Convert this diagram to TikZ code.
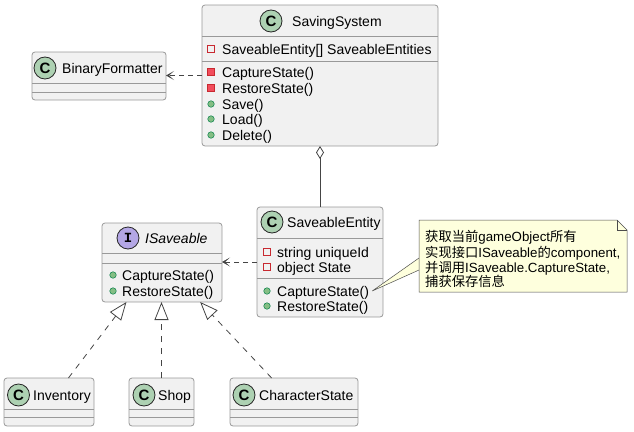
\documentclass[tikz,border=0pt]{standalone}
\usepackage{fontspec}
\setmainfont{Liberation Sans}
\setmonofont{Liberation Mono}
\newfontfamily\cjk{Noto Sans CJK SC}
\usetikzlibrary{arrows.meta, positioning}
\definecolor{BoxFill}{HTML}{F1F1F1}
\definecolor{BoxLine}{HTML}{999999}
\definecolor{SpotClass}{HTML}{ADD1B2}
\definecolor{SpotIface}{HTML}{B4A7E5}
\definecolor{PrivRed}{HTML}{C82930}
\definecolor{PrivFill}{HTML}{F24D5C}
\definecolor{PubGreen}{HTML}{038048}
\definecolor{PubFill}{HTML}{84BE84}
\definecolor{NoteFill}{HTML}{FEFFDD}
\definecolor{LinkLine}{HTML}{454545}

\tikzset{
  classbox/.style={draw=BoxLine, fill=BoxFill, line width=0.8pt, rounded corners=3pt,
                   inner sep=0pt, outer sep=0pt},
  sepline/.style={draw=BoxLine, line width=0.8pt},
  spot/.style={circle, draw=black!85, line width=0.8pt, minimum size=22pt, inner sep=0pt,
               fill=SpotClass, font=\fontsize{15}{15}\selectfont\bfseries},
  ispot/.style={spot, fill=SpotIface, font=\fontsize{14}{14}\selectfont\ttfamily\bfseries},
  cname/.style={anchor=west, inner sep=0pt, text height=10pt, text depth=0pt,
                font=\fontsize{14}{16}\selectfont},
  member/.style={anchor=west, inner ysep=0pt, inner xsep=3pt, text height=10pt, text depth=0pt,
                 font=\fontsize{14}{16}\selectfont},
  notetext/.style={member, font=\fontsize{13.3}{15}\selectfont},
  privf/.style={rectangle, draw=PrivRed, line width=0.7pt, minimum size=6.5pt, inner sep=0pt},
  privm/.style={privf, fill=PrivFill},
  pubm/.style={circle, draw=PubGreen, fill=PubFill, line width=0.5pt, minimum size=6.5pt, inner sep=0pt},
  noteline/.style={draw=black!70, line width=0.5pt},
  dep/.style={draw=LinkLine, line width=0.8pt, dash pattern=on 5pt off 4pt,
              -{Stealth[length=8pt, width=9pt, inset=5pt]}},
  realize/.style={draw=LinkLine, line width=0.8pt, dash pattern=on 6pt off 6pt,
                  -{Triangle[length=18pt, width=14pt, fill=white]}},
  compose/.style={draw=LinkLine, line width=0.8pt,
                  {Diamond[length=13pt, width=8pt, fill=white]}-}
}

\begin{document}
\begin{tikzpicture}[x=1pt, y=-1pt]
  \useasboundingbox (0,0) rectangle (634,431);

  % SavingSystem
  \node[classbox, minimum width=236pt, minimum height=141pt] (ss) at (320,75.5) {};
  \draw[sepline] (ss.west |- 0,36) -- (ss.east |- 0,36);
  \draw[sepline] (ss.west |- 0,61) -- (ss.east |- 0,61);
  \node[spot] (ss-spot) at (271,21) {C};
  \node[cname] (ss-name) at (292,21) {SavingSystem};
  \foreach \y/\mk/\txt [count=\i] in {49/privf/SaveableEntity[] SaveableEntities,
      72/privm/CaptureState(), 88/privm/RestoreState(), 104/pubm/Save(),
      119/pubm/Load(), 135/pubm/Delete()}
  {
    \node[\mk] (ss-k\i) at (211,\y) {};
    \node[member] (ss-t\i) at (219,\y) {\txt};
  }

  % BinaryFormatter
  \node[classbox, minimum width=134pt, minimum height=48pt] (bf) at (99,76) {};
  \draw[sepline] (bf.west |- 0,83) -- (bf.east |- 0,83);
  \draw[sepline] (bf.west |- 0,92) -- (bf.east |- 0,92);
  \node[spot] (bf-spot) at (45,68) {C};
  \node[cname] (bf-name) at (62,68) {BinaryFormatter};

  % ISaveable
  \node[classbox, minimum width=120pt, minimum height=79pt] (is) at (162,262.5) {};
  \draw[sepline] (is.west |- 0,253) -- (is.east |- 0,253);
  \draw[sepline] (is.west |- 0,263) -- (is.east |- 0,263);
  \node[ispot] (is-spot) at (128,238) {I};
  \node[cname, font=\fontsize{14}{16}\selectfont\itshape] (is-name) at (145,238) {ISaveable};
  \foreach \y/\mk/\txt [count=\i] in {275/pubm/CaptureState(), 291/pubm/RestoreState()}
  {
    \node[\mk] (is-k\i) at (113,\y) {};
    \node[member] (is-t\i) at (119,\y) {\txt};
  }

  % SaveableEntity
  \node[classbox, minimum width=126pt, minimum height=110pt] (se) at (320,262) {};
  \draw[sepline] (se.west |- 0,238) -- (se.east |- 0,238);
  \draw[sepline] (se.west |- 0,278) -- (se.east |- 0,278);
  \node[spot] (se-spot) at (272,222) {C};
  \node[cname] (se-name) at (287,222) {SaveableEntity};
  \foreach \y/\mk/\txt [count=\i] in {252/privf/string uniqueId, 267/privf/object State,
      291/pubm/CaptureState(), 306/pubm/RestoreState()}
  {
    \node[\mk] (se-k\i) at (267,\y) {};
    \node[member] (se-t\i) at (274,\y) {\txt};
  }

  % implementations
  \foreach \nm/\cx/\w/\sx/\nx/\lbl in {inv/49/90/18.5/33/Inventory,
      sh/161.5/65/144/158/Shop, cs/294/128/244/259/CharacterState}
  {
    \node[classbox, minimum width=\w pt, minimum height=48pt] (\nm) at (\cx,402) {};
    \draw[sepline] (\nm.west |- 0,409) -- (\nm.east |- 0,409);
    \draw[sepline] (\nm.west |- 0,417) -- (\nm.east |- 0,417);
    \node[spot] (\nm-spot) at (\sx,395) {C};
    \node[cname] (\nm-name) at (\nx,395) {\lbl};
  }

  % note
  \node[minimum width=208pt, minimum height=72pt, inner sep=0pt, outer sep=0pt] (note) at (523,256) {};
  \fill[NoteFill] (se-t3.east) -- (note.west |- 0,258) -- (note.west |- 0,270) -- cycle;
  \draw[noteline] (note.west |- 0,258) -- (se-t3.east) -- (note.west |- 0,270);
  \filldraw[noteline, fill=NoteFill] (note.south west) -- (note.north west)
    -- ([xshift=-10pt]note.north east) -- ([yshift=-10pt]note.north east)
    -- (note.south east) -- cycle;
  \draw[noteline] ([xshift=-10pt]note.north east) -- ([xshift=-10pt, yshift=-10pt]note.north east)
    -- ([yshift=-10pt]note.north east);
  \node[notetext] (nt1) at (422,236) {{\cjk 获取当前}gameObject{\cjk 所有}};
  \node[notetext] (nt2) at (422,252) {{\cjk 实现接口}ISaveable{\cjk 的}component,};
  \node[notetext] (nt3) at (422,267) {{\cjk 并调用}ISaveable.CaptureState,};
  \node[notetext] (nt4) at (422,281) {{\cjk 捕获保存信息}};

  % connectors
  \draw[dep] (ss.west) -- (ss.west -| bf.east);
  \draw[compose] (ss.south) -- (se.north);
  \draw[dep] (se.west) -- (se.west -| is.east);
  \draw[realize] (inv.51.6) -- (is.228.5);
  \draw[realize] (sh.north) -- (sh.north |- is.south);
  \draw[realize] (cs.133.8) -- (is.-46);
\end{tikzpicture}
\end{document}
